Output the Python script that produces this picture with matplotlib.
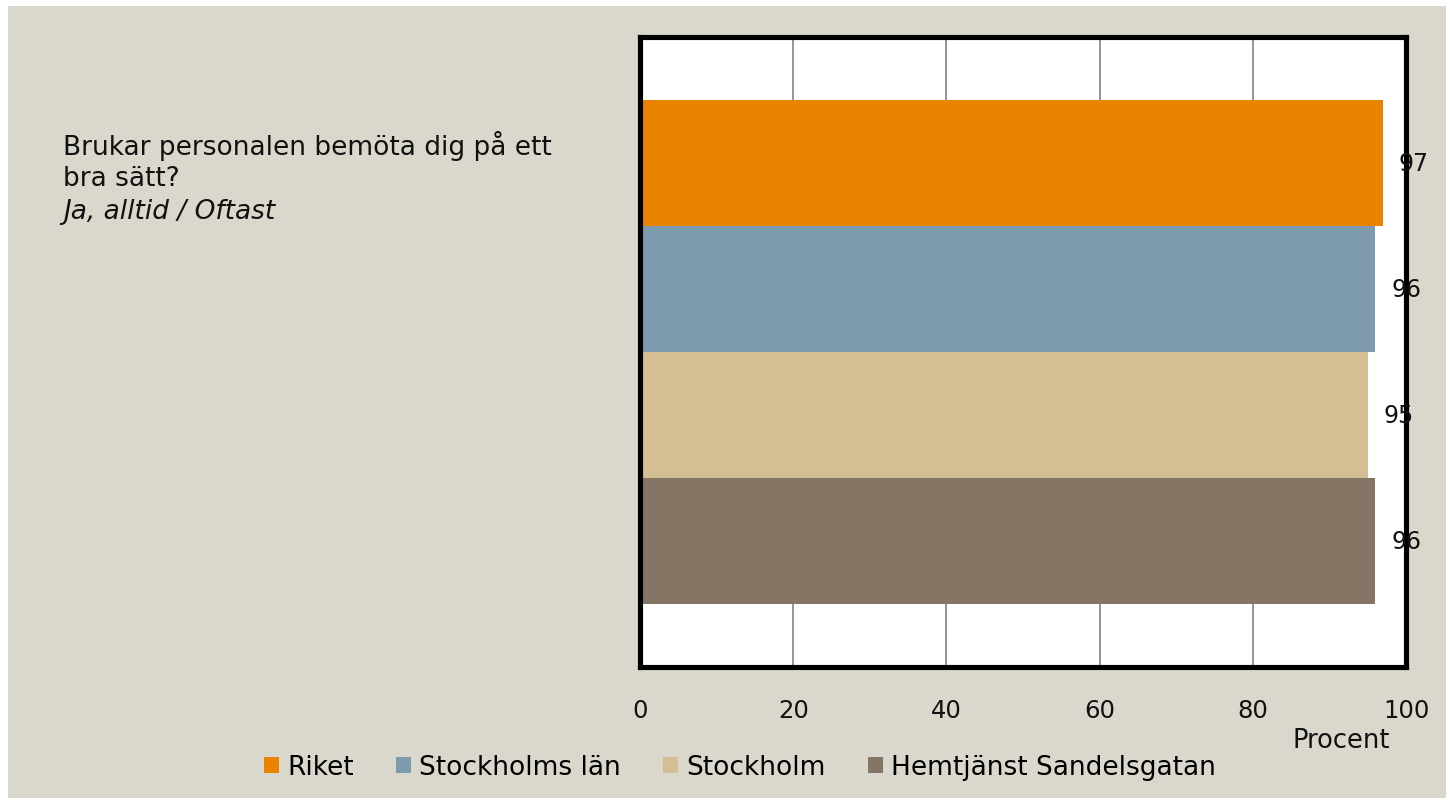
import matplotlib.pyplot as plt
from matplotlib.patches import Rectangle, Patch

series = ["Riket", "Stockholms län", "Stockholm", "Hemtjänst Sandelsgatan"]
values = [97, 96, 95, 96]
colors = ["#E98300", "#7E9BAD", "#D4BE94", "#857565"]
xticks = [0, 20, 40, 60, 80, 100]

bg = "#DAD8CC"
W, H = 1450, 804

fig = plt.figure(figsize=(W / 100, H / 100), dpi=100)
fig.patch.set_facecolor("white")
fig.patches.append(Rectangle((8 / W, 5 / H), (W - 12) / W, (H - 12) / H,
                             transform=fig.transFigure, facecolor=bg,
                             edgecolor="none", zorder=-10))

ax = fig.add_axes([640 / W, 1 - 668 / H, 766 / W, 630 / H])
ax.set_facecolor("white")

# one category, four series stacked top to bottom
centers = [0.8, 0.6, 0.4, 0.2]
for name, v, c, y in zip(series, values, colors, centers):
    ax.barh(y, v, height=0.2, color=c, label=name, zorder=3)
    ax.annotate(str(v), (v, y), xytext=(11.5, 0), textcoords="offset points",
                ha="left", va="center", fontsize=17, color="#111111",
                zorder=5, annotation_clip=False)

ax.set_xlim(0, 100)
ax.set_ylim(0, 1)
ax.set_xticks(xticks)
ax.set_yticks([])
ax.grid(axis="x", color="#8C8C8C", linewidth=1.3, zorder=1)
ax.tick_params(axis="x", length=0, pad=22, labelsize=17.5, colors="#111111")
for s in ax.spines.values():
    s.set_linewidth(3.7)
    s.set_color("black")
    s.set_zorder(4)

fig.text(1390 / W, 1 - 741 / H, "Procent", ha="right", va="center",
         fontsize=18.5, color="#111111")

fig.text(63 / W, 1 - 146 / H, "Brukar personalen bemöta dig på ett",
         ha="left", va="center", fontsize=19, color="#111111")
fig.text(63 / W, 1 - 179 / H, "bra sätt?",
         ha="left", va="center", fontsize=19, color="#111111")
fig.text(63 / W, 1 - 212 / H, "Ja, alltid / Oftast", style="italic",
         ha="left", va="center", fontsize=19, color="#111111")

handles = [Patch(facecolor=c, edgecolor="none") for c in colors]
fig.legend(handles, series, loc="center", bbox_to_anchor=(740 / W, 1 - 768 / H),
           ncol=4, frameon=False, fontsize=19, handlelength=0.57,
           handleheight=0.57, handletextpad=0.3, columnspacing=1.6)

fig.savefig("out.png", dpi=100, facecolor=fig.get_facecolor())
